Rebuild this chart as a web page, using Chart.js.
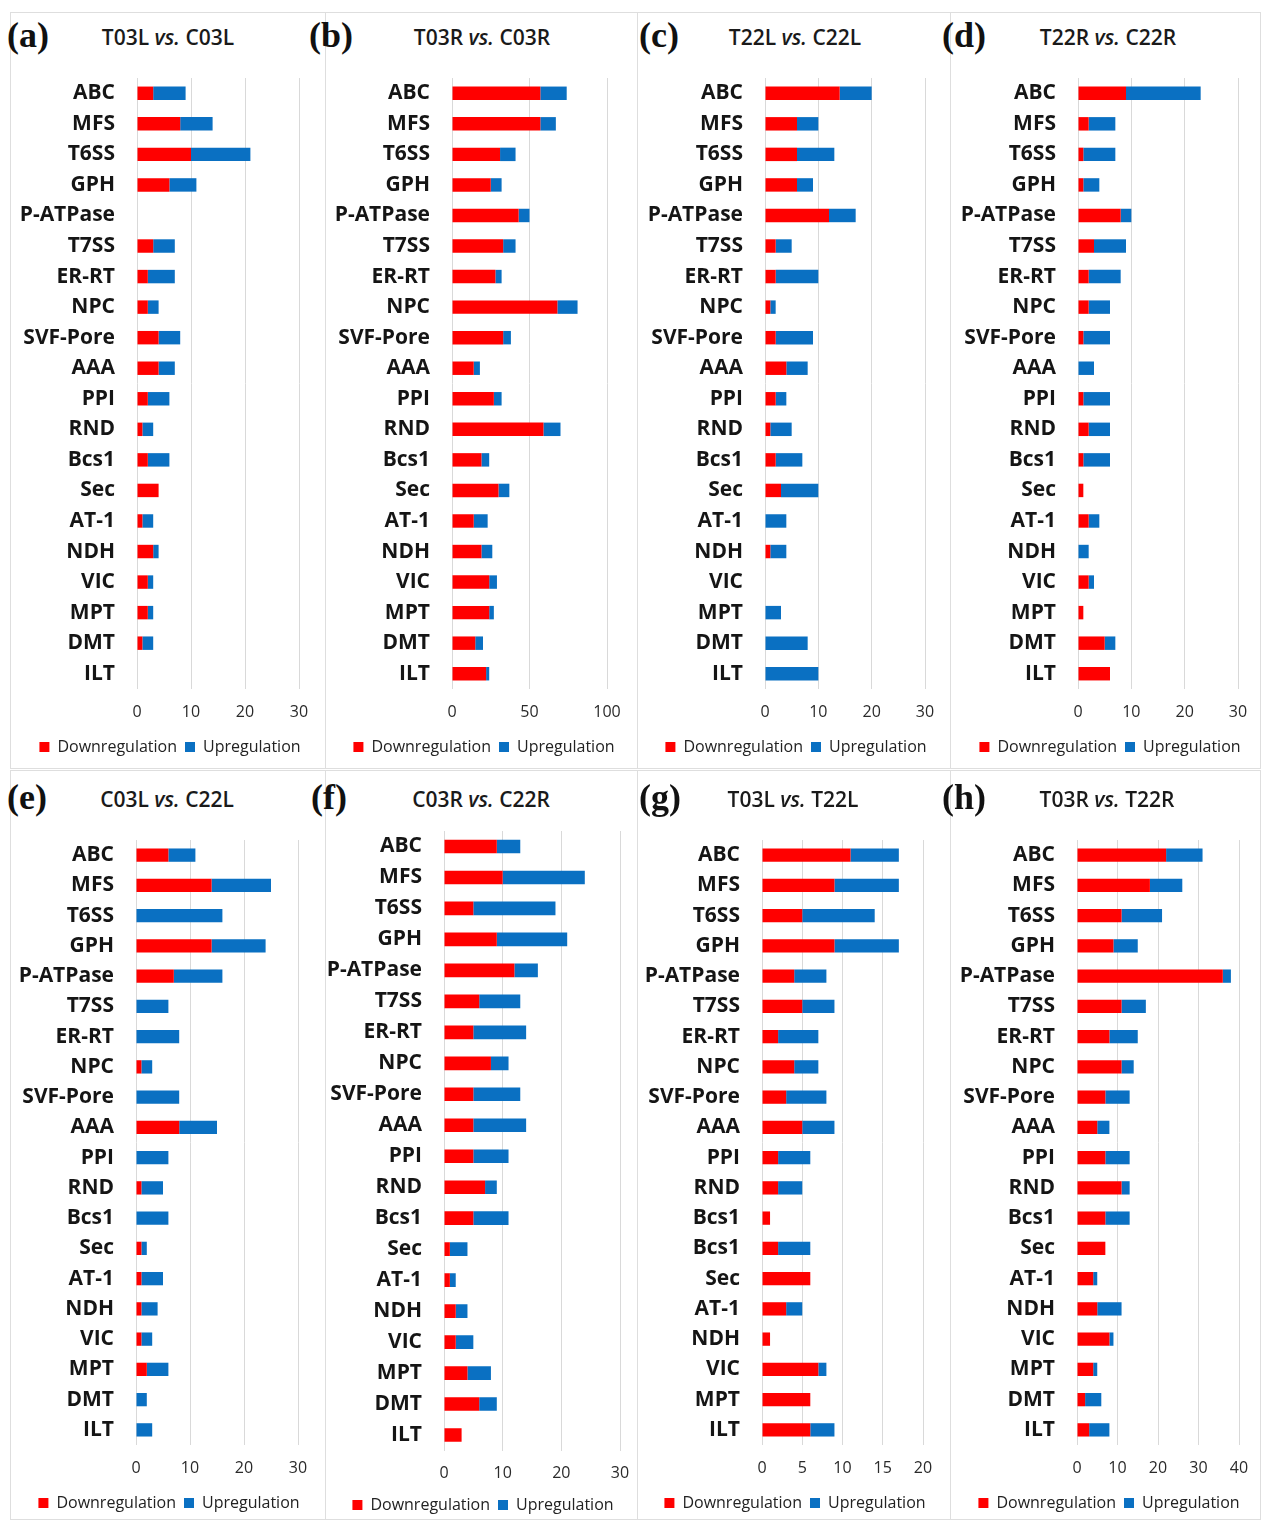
<!DOCTYPE html>
<html>
<head>
<meta charset="utf-8">
<script src="https://cdn.jsdelivr.net/npm/chart.js@4.4.1/dist/chart.umd.min.js"></script>
<style>
  html, body { margin: 0; padding: 0; background: #fff; }
  body { width: 1261px; height: 1521px; position: relative; overflow: hidden; }
  .frame { position: absolute; border: 1px solid #dedede; box-sizing: border-box; }
  .letter { position: absolute; font-family: 'Liberation Serif', 'Times New Roman', serif; font-weight: bold;
            font-size: 36px; line-height: 1; color: #111; }
  .title { position: absolute; font-family: 'Open Sans', sans-serif; font-weight: 600; font-size: 21px;
           line-height: 1; color: #1a1a1a; transform: translate(-50%, -50%); white-space: nowrap; }
  canvas { position: absolute; }
</style>
</head>
<body>
<script>
// Transporter families (rows of each horizontal stacked bar chart)
const categories = ['ABC', 'MFS', 'T6SS', 'GPH', 'P-ATPase', 'T7SS', 'ER-RT', 'NPC', 'SVF-Pore', 'AAA',
  'PPI', 'RND', 'Bcs1', 'Sec', 'AT-1', 'NDH', 'VIC', 'MPT', 'DMT', 'ILT'];
// Row labels as printed in panel (g)
const categoriesG = ['ABC', 'MFS', 'T6SS', 'GPH', 'P-ATPase', 'T7SS', 'ER-RT', 'NPC', 'SVF-Pore', 'AAA',
  'PPI', 'RND', 'Bcs1', 'Bcs1', 'Sec', 'AT-1', 'NDH', 'VIC', 'MPT', 'ILT'];

// Number of down- / up-regulated genes per comparison
const downA = [3, 8, 10, 6, 0, 3, 2, 2, 4, 4, 2, 1, 2, 4, 1, 3, 2, 2, 1, 0];
const upA   = [6, 6, 11, 5, 0, 4, 5, 2, 4, 3, 4, 2, 4, 0, 2, 1, 1, 1, 2, 0];

const downB = [57, 57, 31, 25, 43, 33, 28, 68, 33, 14, 27, 59, 19, 30, 14, 19, 24, 24, 15, 22];
const upB   = [17, 10, 10, 7, 7, 8, 4, 13, 5, 4, 5, 11, 5, 7, 9, 7, 5, 3, 5, 2];

const downC = [14, 6, 6, 6, 12, 2, 2, 1, 2, 4, 2, 1, 2, 3, 0, 1, 0, 0, 0, 0];
const upC   = [6, 4, 7, 3, 5, 3, 8, 1, 7, 4, 2, 4, 5, 7, 4, 3, 0, 3, 8, 10];

const downD = [9, 2, 1, 1, 8, 3, 2, 2, 1, 0, 1, 2, 1, 1, 2, 0, 2, 1, 5, 6];
const upD   = [14, 5, 6, 3, 2, 6, 6, 4, 5, 3, 5, 4, 5, 0, 2, 2, 1, 0, 2, 0];

const downE = [6, 14, 0, 14, 7, 0, 0, 1, 0, 8, 0, 1, 0, 1, 1, 1, 1, 2, 0, 0];
const upE   = [5, 11, 16, 10, 9, 6, 8, 2, 8, 7, 6, 4, 6, 1, 4, 3, 2, 4, 2, 3];

const downF = [9, 10, 5, 9, 12, 6, 5, 8, 5, 5, 5, 7, 5, 1, 1, 2, 2, 4, 6, 3];
const upF   = [4, 14, 14, 12, 4, 7, 9, 3, 8, 9, 6, 2, 6, 3, 1, 2, 3, 4, 3, 0];

const downG = [11, 9, 5, 9, 4, 5, 2, 4, 3, 5, 2, 2, 1, 2, 6, 3, 1, 7, 6, 6];
const upG   = [6, 8, 9, 8, 4, 4, 5, 3, 5, 4, 4, 3, 0, 4, 0, 2, 0, 1, 0, 3];

const downH = [22, 18, 11, 9, 36, 11, 8, 11, 7, 5, 7, 11, 7, 7, 4, 5, 8, 4, 2, 3];
const upH   = [9, 8, 10, 6, 2, 6, 7, 3, 6, 3, 6, 2, 6, 0, 1, 6, 1, 1, 4, 5];

// Panel titles
const titles = {
  a: ['T03L', 'C03L'], b: ['T03R', 'C03R'], c: ['T22L', 'C22L'], d: ['T22R', 'C22R'],
  e: ['C03L', 'C22L'], f: ['C03R', 'C22R'], g: ['T03L', 'T22L'], h: ['T03R', 'T22R']
};
// Axis ranges
const axisMax  = { a: 30, b: 100, c: 30, d: 30, e: 30, f: 30, g: 20, h: 40 };
const axisStep = { a: 10, b: 50, c: 10, d: 10, e: 10, f: 10, g: 5, h: 10 };

const panelData = {
  a: { labels: categories, down: downA, up: upA },
  b: { labels: categories, down: downB, up: upB },
  c: { labels: categories, down: downC, up: upC },
  d: { labels: categories, down: downD, up: upD },
  e: { labels: categories, down: downE, up: upE },
  f: { labels: categories, down: downF, up: upF },
  g: { labels: categoriesG, down: downG, up: upG },
  h: { labels: categories, down: downH, up: upH }
};

// Page layout of the eight panels (pixels)
const ROW1 = { frameTop: 12, frameH: 757, plotTop: 77.7, plotBottom: 689.3, letterTop: 17, titleY: 37, tickOff: 23.7, legendOff: 58 };
const ROW2 = { frameTop: 770, frameH: 750, plotTop: 839.9, plotBottom: 1445.1, letterTop: 779, titleY: 799, tickOff: 23.7, legendOff: 58 };
const ROW2F = Object.assign({}, ROW2, { plotTop: 831, plotBottom: 1450, tickOff: 23, legendOff: 54.5 });
const layout = [
  { id: 'a', row: ROW1, frameL: 10,  frameW: 316, zeroX: 137,  endX: 299,  letterL: 7,   titleX: 168,  legendX: 170 },
  { id: 'b', row: ROW1, frameL: 325, frameW: 313, zeroX: 452,  endX: 607,  letterL: 309, titleX: 482,  legendX: 484 },
  { id: 'c', row: ROW1, frameL: 637, frameW: 314, zeroX: 765,  endX: 925,  letterL: 639, titleX: 795,  legendX: 796 },
  { id: 'd', row: ROW1, frameL: 950, frameW: 311, zeroX: 1078, endX: 1238, letterL: 942, titleX: 1108, legendX: 1110 },
  { id: 'e', row: ROW2, frameL: 10,  frameW: 316, zeroX: 136,  endX: 298,  letterL: 7,   titleX: 167,  legendX: 169 },
  { id: 'f', row: ROW2F, frameL: 325, frameW: 313, zeroX: 444, endX: 620,  letterL: 311, titleX: 481,  legendX: 483 },
  { id: 'g', row: ROW2, frameL: 637, frameW: 314, zeroX: 762,  endX: 923,  letterL: 639, titleX: 793,  legendX: 795 },
  { id: 'h', row: ROW2, frameL: 950, frameW: 311, zeroX: 1077, endX: 1239, letterL: 942, titleX: 1107, legendX: 1109 }
];

const RED = '#FF0000';
const BLUE = '#0A70C2';
const LEGEND_FONT = 16, LEGEND_PAD = 8;
const LEGEND_H = LEGEND_FONT + LEGEND_PAD + 10;
const RIGHT_PAD = 20;
const LABEL_SPACE = 130;

// Moves the legend row sideways after layout so it sits centred under the panel
const legendShift = {
  id: 'legendShift',
  afterLayout(chart, args, opts) {
    const lg = chart.legend;
    if (!lg || !opts.dx) return;
    lg.left += opts.dx;
    lg.right += opts.dx;
  }
};

function el(tag, cls, style, html) {
  const e = document.createElement(tag);
  if (cls) e.className = cls;
  Object.assign(e.style, style);
  if (html !== undefined) e.innerHTML = html;
  document.body.appendChild(e);
  return e;
}

layout.forEach(p => {
  const r = p.row;
  el('div', 'frame', { left: p.frameL + 'px', top: r.frameTop + 'px', width: p.frameW + 'px', height: r.frameH + 'px' });
  el('div', 'letter', { left: p.letterL + 'px', top: r.letterTop + 'px' }, '(' + p.id + ')');
  const t = titles[p.id];
  el('div', 'title', { left: p.titleX + 'px', top: r.titleY + 'px' }, t[0] + ' <i>vs.</i> ' + t[1]);

  const axisH = r.legendOff - (LEGEND_PAD + LEGEND_FONT / 2);
  const cLeft = p.zeroX - LABEL_SPACE;
  const cTop = Math.round(r.plotTop);
  const cW = p.endX + RIGHT_PAD - cLeft;
  const cH = Math.round(r.plotBottom - cTop + axisH + LEGEND_H);
  const dx = p.legendX - (cLeft + p.endX) / 2;

  const cv = el('canvas', null, { left: cLeft + 'px', top: cTop + 'px', width: cW + 'px', height: cH + 'px' });
  cv.width = cW; cv.height = cH;

  const d = panelData[p.id];
  new Chart(cv.getContext('2d'), {
    type: 'bar',
    data: {
      labels: d.labels,
      datasets: [
        { label: 'Downregulation', data: d.down, backgroundColor: RED, barPercentage: 0.44, categoryPercentage: 1 },
        { label: 'Upregulation', data: d.up, backgroundColor: BLUE, barPercentage: 0.44, categoryPercentage: 1 }
      ]
    },
    plugins: [legendShift],
    options: {
      indexAxis: 'y',
      responsive: false,
      animation: false,
      devicePixelRatio: 1,
      layout: { padding: { left: 0, right: RIGHT_PAD, top: 0, bottom: 0 } },
      scales: {
        x: {
          stacked: true, min: 0, max: axisMax[p.id],
          ticks: { stepSize: axisStep[p.id], padding: r.tickOff - 9.6, color: '#2a2a2a',
                   font: { family: 'Open Sans', size: 16 } },
          grid: { color: '#d9d9d9', drawTicks: false },
          border: { display: false },
          afterFit(s) { s.height = axisH; s.paddingLeft = 0; s.paddingRight = 0; }
        },
        y: {
          stacked: true,
          ticks: { autoSkip: false, padding: 22, color: '#151515',
                   font: { family: 'Open Sans', size: 21, weight: 'bold' } },
          grid: { display: false, drawTicks: false },
          border: { display: false },
          afterFit(s) { s.width = LABEL_SPACE; s.paddingTop = 0; s.paddingBottom = 0; }
        }
      },
      plugins: {
        legend: {
          position: 'bottom',
          labels: { boxWidth: 10, boxHeight: 10, padding: LEGEND_PAD, color: '#222',
                    font: { family: 'Open Sans', size: LEGEND_FONT } }
        },
        legendShift: { dx: dx },
        tooltip: { enabled: false }
      }
    }
  });
});
</script>
</body>
</html>
